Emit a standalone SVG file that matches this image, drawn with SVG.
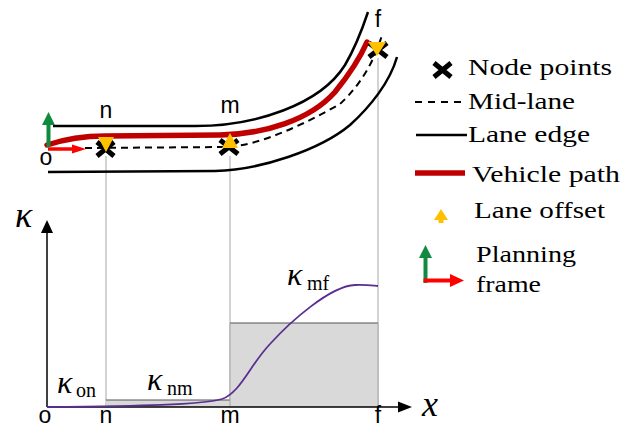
<svg xmlns="http://www.w3.org/2000/svg" width="632" height="431" viewBox="0 0 632 431">
<defs>
<style>
.edge{fill:none;stroke:#000;stroke-width:2.5}
.mid{fill:none;stroke:#000;stroke-width:2;stroke-dasharray:7 5}
.veh{fill:none;stroke:#c00000;stroke-width:5.5;stroke-linecap:round}
.node{fill:none;stroke:#000;stroke-width:5}
.tri{fill:#ffc000}
.guide{stroke:#a6a6a6;stroke-width:1}
.axis{stroke:#000;stroke-width:1.5}
.green{fill:#0f8a3f}
.red{fill:#ff0000}
</style>
</defs>
<rect width="632" height="431" fill="#fff"/>

<g id="guides">
<line class="guide" x1="106" y1="156" x2="106" y2="407"/>
<line class="guide" x1="230" y1="156" x2="230" y2="407"/>
<line class="guide" x1="378" y1="58" x2="378" y2="407"/>
</g>

<g id="bars">
<rect x="106" y="400" width="124" height="7" fill="#d9d9d9"/>
<line x1="106" y1="400" x2="230" y2="400" stroke="#555" stroke-width="1.2"/>
<rect x="230" y="323" width="148" height="84" fill="#d9d9d9"/>
<line x1="230" y1="323" x2="378" y2="323" stroke="#555" stroke-width="1.2"/>
<line class="guide" x1="230" y1="323" x2="230" y2="407"/>
<line class="guide" x1="378" y1="323" x2="378" y2="407"/>
</g>

<g id="lanes">
<path class="edge" d="M53,126 L195,126 C255,126 320,105 345,65 C355,48 362,30 368,12"/>
<path class="edge" d="M48,172 L215,171 C260,170 320,150 350,125 C370,107 390,82 397,57"/>
<path class="mid" d="M85,148 L228,147 C260,145 305,124 340,104 C352,93 366,76 376,52 L383,33"/>
<path class="veh" d="M47,145 C65,139 85,136 105,136 L220,135 C265,134 310,120 335,92 C348,76 360,58 367,42"/>
</g>

<g id="frame-origin">
<line x1="48.5" y1="147" x2="48.5" y2="124" stroke="#0f8a3f" stroke-width="4"/>
<polygon class="green" points="42,125 55,125 48.5,112"/>
<line x1="48" y1="149" x2="74" y2="149" stroke="#ff0000" stroke-width="3.5"/>
<polygon class="red" points="72,144.5 86,149 72,153.5"/>
</g>

<g id="node-n">
<path class="node" d="M97,142 L114,156 M114,142 L97,156"/>
<polygon class="tri" points="98,137 114,137 106,152"/>
</g>
<g id="node-m">
<path class="node" d="M220,140 L238,154 M238,140 L220,154"/>
<polygon class="tri" points="222,148 238,148 230,133"/>
</g>
<g id="node-f">
<path class="node" d="M369,43 L387,57 M387,43 L369,57"/>
<polygon class="tri" points="368,42 386,42 377,56"/>
</g>

<g id="top-labels" font-family="Liberation Sans, Arial, sans-serif" font-size="23" text-anchor="middle" fill="#000">
<text x="46" y="165">o</text>
<text x="106" y="118">n</text>
<text x="230" y="113">m</text>
<text x="378" y="27">f</text>
</g>

<g id="chart">
<line class="axis" x1="47" y1="407" x2="47" y2="230"/>
<polygon points="41,233 53,233 47,220" fill="#000"/>
<line class="axis" x1="47" y1="407" x2="400" y2="407"/>
<polygon points="398,401.5 398,412.5 412,407" fill="#000"/>
<path d="M47,407 C140,406 200,405 222,399 C240,393 250,365 270,344 C290,322 330,286 355,285 C365,284.5 372,285.5 378,286" fill="none" stroke="#5a2d91" stroke-width="1.8"/>
<g font-family="Liberation Serif, Times New Roman, serif" font-style="italic" fill="#000">
<text x="15" y="227" font-size="36">κ</text>
<text x="422" y="416" font-size="36">x</text>
<text x="57" y="393" font-size="32">κ</text>
<text x="147" y="390" font-size="32">κ</text>
<text x="287" y="285" font-size="32">κ</text>
</g>
<g font-family="Liberation Serif, Times New Roman, serif" font-size="20" fill="#000">
<text x="76" y="397">on</text>
<text x="167" y="395">nm</text>
<text x="307" y="290">mf</text>
</g>
<g font-family="Liberation Sans, Arial, sans-serif" font-size="23" text-anchor="middle" fill="#000">
<text x="45" y="423">o</text>
<text x="106" y="423">n</text>
<text x="230" y="423">m</text>
<text x="378" y="423">f</text>
</g>
</g>

<g font-family="Liberation Serif, Times New Roman, serif" font-size="23" fill="#000">
<g id="legend-node">
<path class="node" d="M434,63 L451,77 M451,63 L434,77"/>
<text x="468" y="75" textLength="144" lengthAdjust="spacingAndGlyphs">Node points</text>
</g>
<g id="legend-mid">
<line x1="415" y1="102" x2="467" y2="102" stroke="#000" stroke-width="2" stroke-dasharray="7 6"/>
<text x="468" y="109" textLength="107" lengthAdjust="spacingAndGlyphs">Mid-lane</text>
</g>
<g id="legend-edge">
<line class="edge" x1="416" y1="135" x2="467" y2="135"/>
<text x="468" y="142" textLength="122" lengthAdjust="spacingAndGlyphs">Lane edge</text>
</g>
<g id="legend-vehicle">
<line x1="415" y1="173" x2="465" y2="173" stroke="#c00000" stroke-width="5.5"/>
<text x="472" y="182" textLength="148" lengthAdjust="spacingAndGlyphs">Vehicle path</text>
</g>
<g id="legend-offset">
<polygon class="tri" points="441,209 448,220 443.5,220 443.5,223 438.5,223 438.5,220 434,220"/>
<text x="474" y="218" textLength="131" lengthAdjust="spacingAndGlyphs">Lane offset</text>
</g>
<g id="legend-frame">
<line x1="425.5" y1="283" x2="425.5" y2="256" stroke="#0f8a3f" stroke-width="4"/>
<polygon class="green" points="419,258 432,258 425.5,245"/>
<line x1="423.5" y1="280.5" x2="451" y2="280.5" stroke="#ff0000" stroke-width="4"/>
<polygon class="red" points="450,274 450,287 464,280.5"/>
<text x="476" y="262" textLength="100" lengthAdjust="spacingAndGlyphs">Planning</text>
<text x="476" y="292" textLength="65" lengthAdjust="spacingAndGlyphs">frame</text>
</g>
</g>
</svg>
